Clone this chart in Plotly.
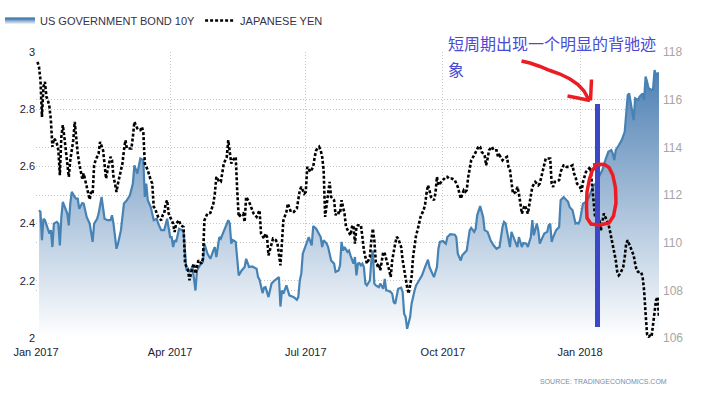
import pandas as pd
import plotly.graph_objects as go

BASE_DATE = "2017-01-01"

# ---- US 10Y government bond yield (left axis) : day offset from 2017-01-01, value in %
bond_days = [
    2, 3, 4, 5, 6, 8, 9, 10, 11, 12, 14, 15, 16, 17, 18, 21, 22, 23, 24, 26, 27, 28, 29, 31, 32, 34, 36, 38, 39, 41,
    42, 44, 45, 46, 48, 50, 51, 52, 54, 55, 57, 59, 61, 63, 65, 66, 68, 69, 70, 72, 73, 74, 75, 77, 79, 81, 82, 84,
    86, 88, 90, 91, 92, 93, 94, 96, 98,
    99, 101, 102, 103, 105, 107, 108, 110, 112, 113, 115, 117, 119, 120, 121, 123, 124, 126, 127, 129, 130, 131, 132,
    134, 136, 138, 140, 141, 143, 145, 148, 149, 150, 152, 153, 154, 156, 157, 158, 160, 162, 163, 164, 165, 166, 168,
    170, 173, 175, 176, 177, 178, 179, 182, 183, 185, 186, 188, 191, 192, 193, 195, 196,
    198, 200, 201, 203, 204, 205, 206, 207, 209, 210, 211, 213, 214, 215, 216, 217, 218, 219, 220, 221, 222, 224, 225,
    226, 227, 228, 230, 231, 233, 234, 235, 236, 238, 239, 240, 241, 243, 245, 246, 247, 248, 249, 251, 252, 254, 255,
    257, 259, 261, 263, 264, 266, 267, 269, 270, 271, 273, 275, 276, 278, 281, 282, 283, 285, 286, 288, 289, 290, 291,
    292, 294, 295, 296, 298,
    300, 301, 303, 305, 307, 309, 311, 313, 314, 315, 317, 318, 319, 320, 322, 323, 324, 326, 327, 329, 330, 332, 333,
    334, 336, 337, 338, 341, 343, 344, 345, 346, 347, 349, 351, 352, 354, 355, 357, 358, 360, 361, 362, 363, 364, 365,
    366, 367, 369, 371, 374, 376, 377, 380, 382, 384, 386, 387, 388, 389, 391, 393, 395, 396, 397, 398, 399, 400, 401,
    402, 404, 405, 407, 408, 409, 410, 411, 413, 414, 415, 416, 417, 418,
]
bond_yield = [
    2.447, 2.441, 2.342, 2.417, 2.412, 2.377, 2.365, 2.377, 2.318, 2.400, 2.406, 2.400, 2.324, 2.423, 2.476, 2.435,
    2.394, 2.470, 2.511, 2.493, 2.487, 2.487, 2.452, 2.472, 2.470, 2.423, 2.400, 2.336, 2.400, 2.417, 2.435, 2.493,
    2.452, 2.417, 2.412, 2.412, 2.429, 2.400, 2.312, 2.330, 2.377, 2.470, 2.482, 2.499, 2.540, 2.604, 2.575, 2.604,
    2.628, 2.622, 2.493, 2.540, 2.482, 2.458, 2.412, 2.417, 2.400, 2.377, 2.377, 2.417, 2.353, 2.353, 2.318, 2.342,
    2.336, 2.382, 2.377,
    2.371, 2.236, 2.242, 2.231, 2.248, 2.166, 2.236, 2.254, 2.266, 2.330, 2.295, 2.277, 2.306, 2.318, 2.283, 2.353,
    2.347, 2.371, 2.388, 2.412, 2.400, 2.330, 2.342, 2.336, 2.219, 2.236, 2.248, 2.277, 2.248, 2.250, 2.242, 2.213,
    2.204, 2.157, 2.176, 2.178, 2.143, 2.166, 2.190, 2.201, 2.211, 2.213, 2.110, 2.166, 2.155, 2.184, 2.149, 2.143,
    2.134, 2.143, 2.201, 2.225, 2.295, 2.342, 2.353, 2.324, 2.391, 2.382, 2.353, 2.318, 2.342, 2.330, 2.318,
    2.271, 2.260, 2.231, 2.236, 2.254, 2.336, 2.306, 2.318, 2.301, 2.306, 2.289, 2.260, 2.283, 2.219, 2.260, 2.262,
    2.254, 2.260, 2.248, 2.190, 2.184, 2.201, 2.271, 2.306, 2.190, 2.184, 2.178, 2.190, 2.172, 2.207, 2.166, 2.166,
    2.161, 2.155, 2.125, 2.120, 2.172, 2.176, 2.161, 2.085, 2.073, 2.032, 2.073, 2.120, 2.166, 2.184, 2.201, 2.219,
    2.248, 2.274, 2.248, 2.225, 2.213, 2.248, 2.312, 2.336, 2.339, 2.330, 2.353, 2.363, 2.361, 2.353, 2.295, 2.271,
    2.289, 2.301, 2.306, 2.342, 2.377, 2.385, 2.371, 2.382, 2.429, 2.461,
    2.423, 2.377, 2.371, 2.342, 2.324, 2.312, 2.318, 2.388, 2.406, 2.402, 2.353, 2.318, 2.371, 2.359, 2.330, 2.318,
    2.353, 2.318, 2.332, 2.330, 2.318, 2.353, 2.412, 2.359, 2.400, 2.377, 2.330, 2.365, 2.371, 2.394, 2.400, 2.336,
    2.353, 2.377, 2.388, 2.482, 2.493, 2.487, 2.476, 2.458, 2.447, 2.423, 2.400, 2.402, 2.400, 2.412, 2.447, 2.470,
    2.476, 2.493, 2.534, 2.540, 2.557, 2.587, 2.622, 2.651, 2.657, 2.645, 2.622, 2.657, 2.674, 2.692, 2.721, 2.773,
    2.849, 2.855, 2.820, 2.785, 2.762, 2.838, 2.832, 2.844, 2.855, 2.832, 2.914, 2.896, 2.873, 2.867, 2.869, 2.937,
    2.919, 2.925, 2.925,
]

# ---- Japanese yen (USD/JPY, right axis)
yen_days = [
    1, 2, 3, 4, 5, 6, 7, 8, 9, 10, 11, 12, 13, 14, 15, 16, 17, 18, 19, 20, 21, 22, 23, 24, 25, 26, 27, 28, 29, 30, 31,
    32, 33, 34, 35, 36, 37, 38, 39, 40, 42, 43, 45, 46, 47, 48, 50, 51, 52, 53, 54, 55, 56, 58, 59, 60, 61, 63, 64,
    65, 66, 68, 69, 70, 71, 72, 73, 74, 75, 77, 78, 79, 80, 81, 82, 84, 85, 86, 87, 88, 89, 90, 91, 92, 93, 94, 96, 97,
    99, 100, 102, 103, 105, 106, 107, 109, 111, 112, 113, 115, 117, 118, 119, 120, 121, 123, 124, 126, 128, 129, 130,
    131, 132, 134, 135, 136, 137, 139, 140, 141, 143, 144, 145, 146, 148, 149, 150, 151, 153, 154, 155, 156, 158, 159,
    161, 162, 164, 165, 166, 168, 169, 171, 173, 175, 176, 177, 178, 180, 181, 182, 184, 186, 187, 188, 190, 191, 192,
    193, 194, 195, 197,
    198, 200, 201, 202, 204, 205, 206, 207, 208, 210, 211, 212, 213, 214, 215, 216, 218, 219, 220, 222, 223, 224, 225,
    226, 227, 228, 229, 230, 231, 233, 234, 235, 236, 237, 238, 239, 241, 242, 243, 244, 245, 246, 247, 248, 249, 250,
    252, 253, 254, 255, 256, 257, 258, 260, 261, 262, 263, 264, 265, 267, 268, 269, 270, 271, 273, 275, 276, 277, 279,
    281, 282, 283, 285, 286, 287, 288, 289, 290, 291, 292, 294, 295, 296, 297,
    298, 299, 301, 302, 303, 304, 306, 307, 309, 310, 311, 313, 314, 316, 317, 318, 319, 320, 322, 323, 324, 325, 326,
    327, 328, 330, 331, 332, 333, 335, 337, 338, 339, 341, 342, 343, 344, 345, 346, 347, 348, 349, 351, 352, 354, 355,
    356, 358, 360, 361, 362, 363, 365, 366, 367, 368, 369, 371, 372, 373, 374, 375, 377, 378, 379, 380, 381, 382, 383,
    384, 385, 386, 388, 389, 390, 391, 392, 393, 394, 395, 396, 397, 398, 400, 401, 402, 403, 404, 406, 407, 408, 409,
    410, 411, 412, 413, 414, 415, 416, 417, 418,
]
yen_rate = [
    117.59, 117.38, 116.82, 115.28, 116.54, 116.75, 116.12, 115.98, 115.70, 115.14, 114.02, 114.37, 114.30, 114.16,
    113.88, 112.83, 114.44, 114.93, 114.44, 113.88, 113.32, 112.76, 113.46, 113.81, 114.30, 115.07, 114.30, 113.74,
    113.32, 113.04, 112.69, 112.90, 112.62, 112.34, 112.06, 111.81, 112.13, 112.06, 113.25, 113.46, 113.74, 114.23,
    113.88, 113.32, 112.69, 113.04, 113.60, 113.46, 112.76, 112.48, 112.13, 112.48, 112.76, 113.32, 113.88, 114.30,
    113.95, 113.95, 113.95, 114.44, 115.07, 114.79, 114.72, 114.72, 114.86, 114.65, 113.32, 113.18, 113.04, 112.62,
    112.48, 111.50, 111.43, 111.22, 111.08, 110.94, 111.15, 111.22, 111.64, 111.78, 111.22, 111.08, 110.94, 110.80,
    110.45, 110.80, 110.94, 110.73,
    110.66, 109.12, 108.84, 108.42, 108.98, 109.12, 108.70, 109.26, 109.12, 109.33, 110.94, 111.22, 111.25, 111.50,
    111.64, 112.06, 112.76, 112.55, 112.55, 113.32, 113.60, 114.30, 113.88, 113.32, 113.46, 113.60, 112.20, 111.08,
    111.15, 111.22, 110.87, 111.92, 111.71, 111.57, 111.43, 111.22, 111.08, 111.22, 111.36, 110.38, 110.17, 110.38,
    110.24, 109.47, 109.89, 110.17, 110.10, 109.96, 109.05, 110.03, 110.94, 111.29, 111.64, 111.29, 111.29, 111.43,
    111.78, 112.20, 112.34, 112.06, 112.13, 113.18, 112.97, 113.18, 113.60, 113.88, 114.02, 113.88, 113.60, 113.04,
    111.08, 111.64, 112.55,
    111.92, 111.78, 111.15, 111.29, 111.22, 111.78, 111.50, 111.22, 110.66, 110.45, 110.31, 110.66, 110.73, 109.96,
    110.66, 110.73, 110.73, 110.24, 109.68, 109.12, 109.26, 109.40, 110.10, 110.59, 110.10, 109.19, 109.05, 109.12,
    108.84, 109.61, 109.54, 109.33, 109.12, 108.84, 108.56, 109.26, 109.96, 110.24, 110.17, 110.03, 109.82, 109.26,
    108.84, 108.56, 108.14, 107.86, 108.56, 109.40, 109.96, 110.31, 110.52, 110.80, 111.08, 111.36, 111.57, 112.06,
    112.41, 112.20, 111.92, 111.78, 112.06, 112.76, 112.41, 112.48, 112.62, 112.76, 112.76, 112.69, 112.69, 112.62,
    112.48, 112.34, 111.85, 112.06, 112.20, 112.13, 112.20, 112.76, 113.18, 113.46, 113.67, 113.81, 113.88, 114.05,
    114.02, 113.81, 113.67, 113.25, 113.53, 113.88, 114.02, 113.88, 113.88, 113.60, 113.67, 113.46, 113.53, 113.60,
    113.18, 113.04, 112.55, 112.06, 112.13, 112.34, 112.06, 111.50, 111.22, 111.43, 111.57, 111.22, 111.57, 112.06,
    112.34, 112.55, 112.41, 112.48, 112.76, 113.32, 113.53, 113.53, 113.53, 113.53, 112.48, 112.34, 112.55, 112.55,
    112.62, 112.97, 113.25, 113.25, 113.18, 113.18, 113.25, 112.90, 112.76, 112.48, 112.34, 112.13, 112.55, 112.83,
    112.97, 113.11, 113.18, 112.48, 111.78, 111.15, 111.15, 110.94, 110.52, 110.80, 111.22, 111.08, 110.94, 110.80,
    110.52, 110.24, 109.68, 109.26, 108.77, 108.63, 108.70, 108.84, 108.98, 109.40, 109.96, 110.10, 109.96, 109.68,
    109.47, 109.12, 108.84, 108.77, 108.77, 108.56, 108.00, 107.02, 106.15, 106.05, 106.10, 106.05, 106.60, 107.16,
    107.58, 107.72, 106.85,
]

x_tick_dates = ["2017-01-01", "2017-04-01", "2017-07-01", "2017-10-01", "2018-01-01"]
x_tick_labels = ["Jan 2017", "Apr 2017", "Jul 2017", "Oct 2017", "Jan 2018"]
x_range = ["2017-01-01", "2018-02-23"]
left_ticks = [2.0, 2.2, 2.4, 2.6, 2.8, 3.0]
left_tick_labels = ["2", "2.2", "2.4", "2.6", "2.8", "3"]
right_ticks = [106, 108, 110, 112, 114, 116, 118]
right_tick_labels = ["106", "108", "110", "112", "114", "116", "118"]

series_names = ["US GOVERNMENT BOND 10Y", "JAPANESE YEN"]
note_line1 = "短周期出现一个明显的背驰迹"
note_line2 = "象"
source_text = "SOURCE: TRADINGECONOMICS.COM"


def to_dates(days):
    return pd.Timestamp(BASE_DATE) + pd.to_timedelta(days, unit="D")


W, H = 717, 395
PL, PR, PT, PB = 36, 659, 52, 338  # plot area in pixels


def px(x):
    return (x - PL) / (PR - PL)


def py(y):
    return (PB - y) / (PB - PT)


def path_from(points, close=False):
    s = "M" + " L".join(f"{px(x):.5f},{py(y):.5f}" for x, y in points)
    return s + (" Z" if close else "")


FONT = "Arial, Liberation Sans, sans-serif"
GRID = "#c4c4c4"
GRIDDASH = "1px,2px"

fig = go.Figure()
fig.add_trace(go.Scatter(
    x=to_dates(bond_days), y=bond_yield, name=series_names[0], mode="lines",
    line=dict(color="#4682b4", width=2.2),
    fill="tozeroy",
    fillgradient=dict(type="vertical", start=2.0, stop=3.0,
                      colorscale=[[0, "#ffffff"], [1, "#4277ae"]]),
    yaxis="y",
))
fig.add_trace(go.Scatter(
    x=to_dates(yen_days), y=yen_rate, name=series_names[1], mode="lines",
    line=dict(color="#000000", width=2.6, dash="3px,2px"),
    yaxis="y2",
))

shapes = []
# blue vertical bar
shapes.append(dict(type="line", xref="paper", yref="paper",
                   x0=px(597.5), x1=px(597.5), y0=py(327), y1=py(104),
                   line=dict(color="#3c46c8", width=5)))
# red hand-drawn loop
loop = [(593, 165), (599, 164.3), (604.5, 164.5), (609, 167.5), (612.8, 175), (615.5, 188), (616, 203),
        (613.5, 216), (609, 223), (600, 225), (591, 224), (587, 218), (586.5, 206), (587, 192),
        (589.5, 179), (592.5, 170), (596, 166)]
shapes.append(dict(type="path", xref="paper", yref="paper", path=path_from(loop),
                   line=dict(color="#ec1c24", width=3.5)))
# red arrow
arrow = [(521.5, 61), (530, 63), (540, 66.5), (550, 70.5), (560, 74), (570, 79), (578, 84.5), (584, 91), (589, 100)]
shapes.append(dict(type="path", xref="paper", yref="paper", path=path_from(arrow),
                   line=dict(color="#ec1c24", width=3.5)))
shapes.append(dict(type="path", xref="paper", yref="paper",
                   path=path_from([(567.5, 96), (578, 98), (590, 100.5)]),
                   line=dict(color="#ec1c24", width=3.5)))
shapes.append(dict(type="path", xref="paper", yref="paper",
                   path=path_from([(591.5, 79.5), (591, 90), (590.5, 100.5)]),
                   line=dict(color="#ec1c24", width=3.5)))

annotations = [
    dict(text=note_line1, xref="paper", yref="paper", x=px(446), y=py(43), xanchor="left", yanchor="middle",
         showarrow=False, font=dict(family="Noto Sans CJK SC", size=16, color="#4a4ad4")),
    dict(text=note_line2, xref="paper", yref="paper", x=px(446), y=py(69), xanchor="left", yanchor="middle",
         showarrow=False, font=dict(family="Noto Sans CJK SC", size=16, color="#4a4ad4")),
    dict(text=source_text, xref="paper", yref="paper", x=px(669), y=py(382), xanchor="right", yanchor="middle",
         showarrow=False, font=dict(family=FONT, size=7, color="#7c8ca3")),
]

fig.update_layout(
    width=W, height=H,
    margin=dict(l=PL, r=W - PR, t=PT, b=H - PB, autoexpand=False),
    paper_bgcolor="white", plot_bgcolor="white",
    font=dict(family=FONT, size=11, color="#333333"),
    showlegend=True,
    legend=dict(orientation="h", xref="container", yref="container", x=-0.009, y=0.985,
                xanchor="left", yanchor="top", font=dict(size=11, color="#333344"),
                bgcolor="rgba(0,0,0,0)", itemwidth=30),
    xaxis=dict(type="date", range=x_range, tickvals=x_tick_dates, ticktext=x_tick_labels, automargin=False,
               showgrid=True, gridcolor=GRID, griddash=GRIDDASH, gridwidth=1, ticklabelstandoff=6,
               zeroline=False, showline=False, ticks="", tickfont=dict(size=11, color="#222233")),
    yaxis=dict(range=[2, 3], tickvals=left_ticks, ticktext=left_tick_labels, automargin=False,
               showgrid=True, gridcolor=GRID, griddash=GRIDDASH, gridwidth=1,
               zeroline=False, showline=False, ticks="", tickfont=dict(size=11, color="#222233")),
    yaxis2=dict(range=[106, 118], tickvals=right_ticks, ticktext=right_tick_labels, automargin=False,
                overlaying="y", side="right", ticklabelstandoff=3,
                showgrid=True, gridcolor=GRID, griddash=GRIDDASH, gridwidth=1,
                zeroline=False, showline=False, ticks="", tickfont=dict(size=12, color="#a6a6a6")),
    shapes=shapes,
    annotations=annotations,
)

fig.write_html("out.html", config={"displayModeBar": False},
               post_script="document.body.style.margin='0';document.body.style.padding='0';")
